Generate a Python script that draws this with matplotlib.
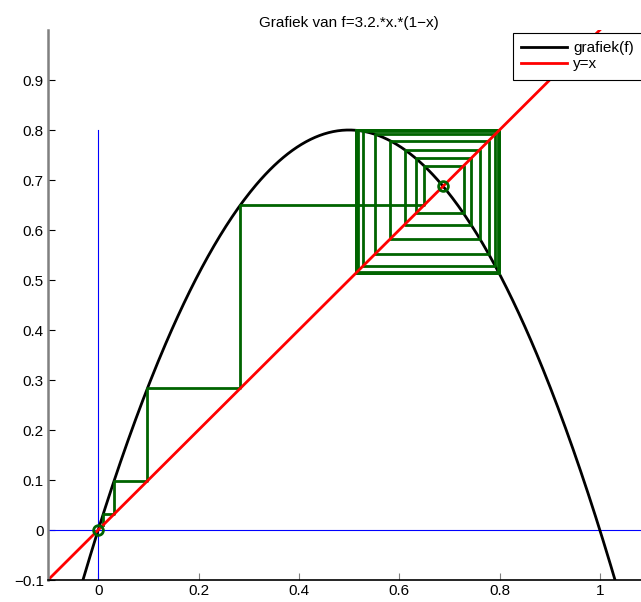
import matplotlib.pyplot as plt
import numpy as np

plt.rcParams['font.family'] = ['Liberation Sans', 'DejaVu Sans']

# logistische afbeelding f(x) = r*x*(1-x)
r = 3.2
x0 = 0.01
n_iter = 60
fixpunten = [0.0, 1 - 1 / r]

x_ticks = [0, 0.2, 0.4, 0.6, 0.8, 1]
y_ticks = [-0.1, 0, 0.1, 0.2, 0.3, 0.4, 0.5, 0.6, 0.7, 0.8, 0.9]


def f(x):
    return r * x * (1 - x)


fig = plt.figure(figsize=(6.41, 6.02), dpi=100)
ax = fig.add_axes([48 / 641, 22 / 602, 602 / 641, 550 / 602])

# assen door de oorsprong
ax.plot([-0.1, 1.1], [0, 0], color='#0000ff', lw=0.8)
ax.plot([0, 0], [-0.1, 0.8], color='#0000ff', lw=0.8)

xs = np.linspace(-0.1, 1.1, 400)
ax.plot(xs, f(xs), color='black', lw=2, label='grafiek(f)')

# webdiagram
wx, wy = [], []
x = x0
for _ in range(n_iter):
    y = f(x)
    wx += [x, x, y]
    wy += [x, y, y]
    x = y
ax.plot(wx, wy, color='#006400', lw=2)

ax.plot([-0.1, 1.1], [-0.1, 1.1], color='red', lw=2, label='y=x')
ax.plot(fixpunten, fixpunten, 'o', ms=7, mfc='none', mec='#006400', mew=2)

ax.set_xlim(-0.1, 1.1)
ax.set_ylim(-0.1, 1.0)
ax.set_xticks(x_ticks)
ax.set_xticklabels(['0', '0.2', '0.4', '0.6', '0.8', '1'])
ax.set_yticks(y_ticks)
ax.set_yticklabels(['\u22120.1', '0', '0.1', '0.2', '0.3', '0.4', '0.5', '0.6', '0.7', '0.8', '0.9'])
ax.tick_params(direction='in', length=5, labelsize=11, width=0.8, pad=3)
ax.tick_params(axis='x', colors='#808080', labelcolor='black')
ax.spines['top'].set_visible(False)
ax.spines['right'].set_visible(False)
ax.spines['left'].set_color('#808080')
ax.spines['left'].set_linewidth(1.8)
ax.spines['bottom'].set_linewidth(1.2)

ax.set_title('Grafiek van f=3.2.*x.*(1\u2212x)', fontsize=11, pad=1)

leg = ax.legend(loc='upper left', bbox_to_anchor=(513 / 641, 1 - 33 / 602),
                bbox_transform=fig.transFigure, borderaxespad=0, fancybox=False,
                edgecolor='black', framealpha=1, fontsize=11, handlelength=3.0,
                borderpad=0.55, labelspacing=0.12, handletextpad=0.4)
leg.get_frame().set_linewidth(0.8)

fig.savefig('out.png', dpi=100)
